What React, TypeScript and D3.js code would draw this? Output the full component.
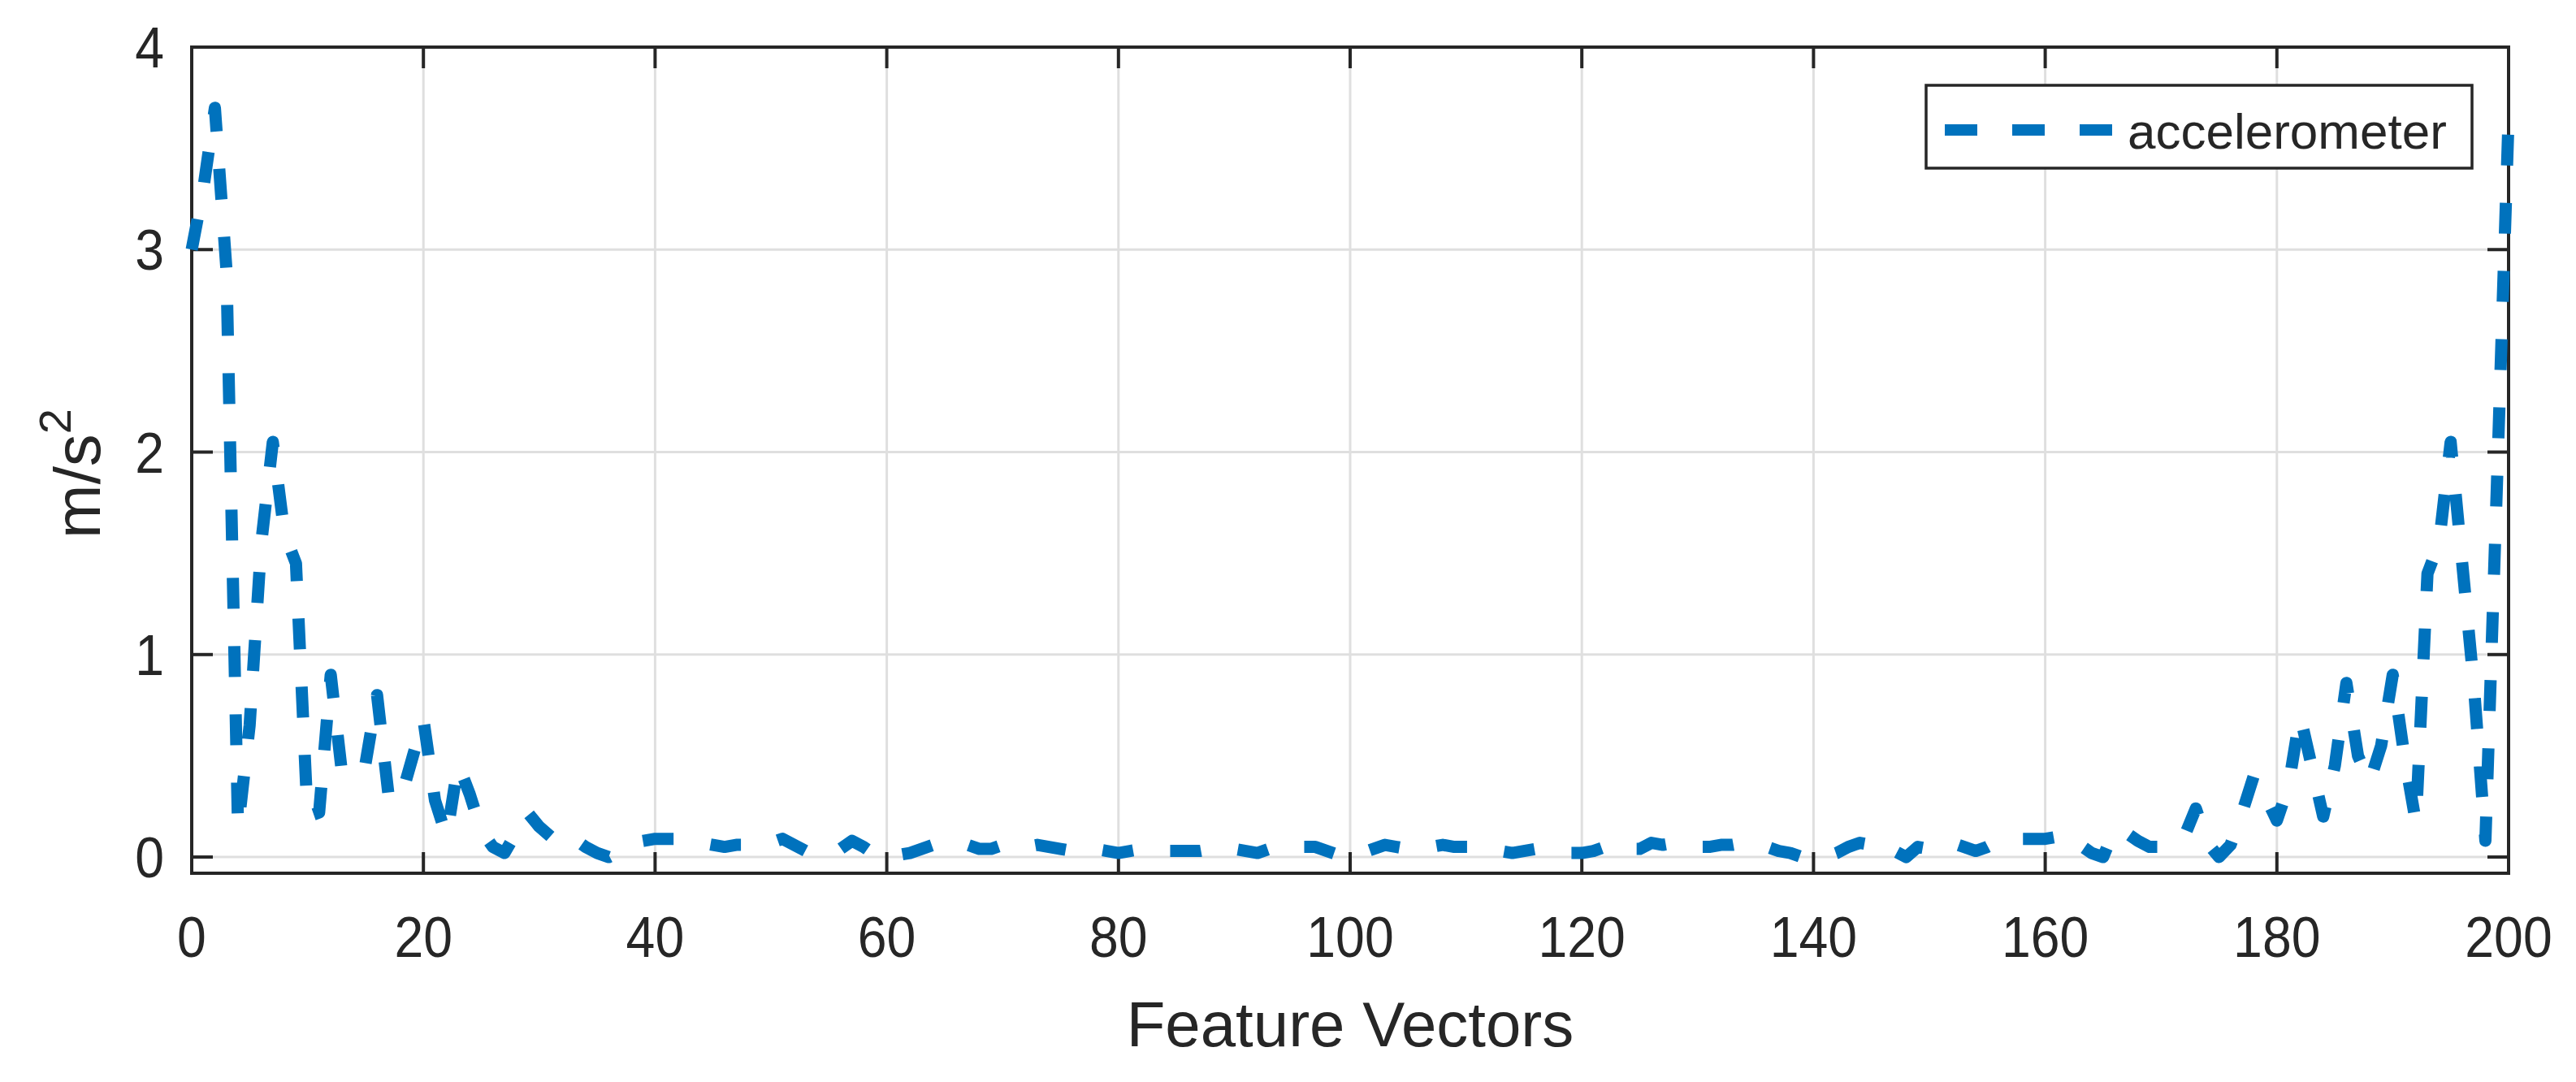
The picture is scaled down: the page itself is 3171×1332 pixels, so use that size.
import { useRef, useEffect } from "react";
import * as d3 from "d3";

// accelerometer magnitude per feature vector (index 0..200)
const accelValues = [
  3.0, 3.3, 3.7, 2.9, 0.14, 0.65, 1.55, 2.05, 1.6, 1.45, 0.2,
  0.22, 0.9, 0.4, 0.42, 0.46, 0.8, 0.3, 0.28, 0.48, 0.68,
  0.28, 0.1, 0.46, 0.31, 0.13, 0.05, 0.02, 0.12, 0.22, 0.15,
  0.1, 0.06, 0.09, 0.05, 0.02, 0.0, 0.03, 0.07, 0.08, 0.09,
  0.09, 0.09, 0.08, 0.07, 0.06, 0.05, 0.06, 0.06, 0.07, 0.07,
  0.09, 0.06, 0.03, 0.01, 0.02, 0.04, 0.08, 0.05, 0.01, 0.0,
  0.01, 0.02, 0.04, 0.06, 0.07, 0.06, 0.06, 0.04, 0.04, 0.06,
  0.05, 0.05, 0.06, 0.05, 0.04, 0.03, 0.03, 0.04, 0.03, 0.02,
  0.03, 0.04, 0.03, 0.03, 0.03, 0.03, 0.03, 0.04, 0.05, 0.04,
  0.03, 0.02, 0.04, 0.06, 0.06, 0.05, 0.05, 0.03, 0.01, 0.0,
  0.02, 0.04, 0.06, 0.05, 0.04, 0.04, 0.05, 0.06, 0.05, 0.05,
  0.05, 0.04, 0.03, 0.02, 0.03, 0.04, 0.04, 0.03, 0.02, 0.02,
  0.03, 0.05, 0.07, 0.04, 0.04, 0.07, 0.06, 0.07, 0.06, 0.05,
  0.05, 0.06, 0.06, 0.07, 0.06, 0.05, 0.03, 0.02, 0.0, 0.01,
  0.0, 0.02, 0.05, 0.07, 0.06, 0.08, 0.03, 0.0, 0.05, 0.04,
  0.05, 0.07, 0.05, 0.03, 0.05, 0.08, 0.1, 0.09, 0.09, 0.09,
  0.1, 0.12, 0.06, 0.02, 0.0, 0.14, 0.12, 0.08, 0.05, 0.05,
  0.05, 0.1, 0.24, 0.07, 0.0, 0.06, 0.22, 0.4, 0.3, 0.18,
  0.35, 0.7, 0.45, 0.2, 0.45, 0.86, 0.5, 0.37, 0.55, 0.9,
  0.5, 0.17, 1.4, 1.55, 2.05, 1.45, 0.85, 0.08, 1.85, 3.65,
];

const xTickValues = [0, 20, 40, 60, 80, 100, 120, 140, 160, 180, 200];
const yTickValues = [0, 1, 2, 3, 4];
const seriesName = "accelerometer";
const xLabel = "Feature Vectors";

const FONT = "'Liberation Sans', Arial, Helvetica, sans-serif";
const INK = "#262626";
const BLUE = "#0072BD";

export default function App() {
  const svgRef = useRef<SVGSVGElement>(null);

  useEffect(() => {
    const svg = d3.select(svgRef.current);
    svg.selectAll("*").remove();

    const left = 236;
    const right = 3088;
    const top = 58;
    const bottom = 1075;
    const tickLen = 26;

    const x = d3.scaleLinear().domain([0, 200]).range([left, right]);
    const y = d3.scaleLinear().domain([-0.08, 4]).range([bottom, top]);

    svg.append("rect").attr("width", 3171).attr("height", 1332).attr("fill", "#fff");

    // grid
    const grid = svg.append("g").attr("stroke", "#dfdfdf").attr("stroke-width", 3);
    grid
      .selectAll(".gx")
      .data(xTickValues.filter((d) => d > 0 && d < 200))
      .join("line")
      .attr("x1", (d) => x(d))
      .attr("x2", (d) => x(d))
      .attr("y1", top)
      .attr("y2", bottom);
    grid
      .selectAll(".gy")
      .data(yTickValues)
      .join("line")
      .attr("x1", left)
      .attr("x2", right)
      .attr("y1", (d) => y(d))
      .attr("y2", (d) => y(d));

    // ticks, all four sides
    const ticks = svg.append("g").attr("stroke", INK).attr("stroke-width", 4);
    xTickValues.forEach((d) => {
      ticks.append("line").attr("x1", x(d)).attr("x2", x(d)).attr("y1", bottom).attr("y2", bottom - tickLen);
      ticks.append("line").attr("x1", x(d)).attr("x2", x(d)).attr("y1", top).attr("y2", top + tickLen);
    });
    yTickValues.forEach((d) => {
      ticks.append("line").attr("x1", left).attr("x2", left + tickLen).attr("y1", y(d)).attr("y2", y(d));
      ticks.append("line").attr("x1", right).attr("x2", right - tickLen).attr("y1", y(d)).attr("y2", y(d));
    });

    // box
    svg
      .append("rect")
      .attr("x", left)
      .attr("y", top)
      .attr("width", right - left)
      .attr("height", bottom - top)
      .attr("fill", "none")
      .attr("stroke", INK)
      .attr("stroke-width", 4);

    // tick labels
    svg
      .append("g")
      .selectAll("g")
      .data(xTickValues)
      .join("g")
      .attr("transform", (d) => `translate(${x(d)},1178) scale(0.92,1)`)
      .append("text")
      .attr("text-anchor", "middle")
      .style("font-family", FONT)
      .attr("font-size", 70)
      .attr("fill", INK)
      .text((d) => d);

    svg
      .append("g")
      .selectAll("g")
      .data(yTickValues)
      .join("g")
      .attr("transform", (d) => `translate(202,${y(d) + 25}) scale(0.92,1)`)
      .append("text")
      .attr("text-anchor", "end")
      .style("font-family", FONT)
      .attr("font-size", 70)
      .attr("fill", INK)
      .text((d) => d);

    // axis labels
    svg
      .append("text")
      .attr("x", (left + right) / 2)
      .attr("y", 1288)
      .attr("text-anchor", "middle")
      .style("font-family", FONT)
      .attr("font-size", 78)
      .attr("fill", INK)
      .text(xLabel);

    const yl = svg
      .append("text")
      .attr("transform", "translate(123,663) rotate(-90)")
      .attr("text-anchor", "start")
      .style("font-family", FONT)
      .attr("font-size", 80)
      .attr("fill", INK);
    yl.append("tspan").text("m/s");
    yl.append("tspan").attr("font-size", 56).attr("dy", -36).text("2");

    // data line
    const line = d3
      .line<number>()
      .x((_, i) => x(i))
      .y((d) => y(d));

    svg
      .append("path")
      .datum(accelValues)
      .attr("d", line)
      .attr("fill", "none")
      .attr("stroke", BLUE)
      .attr("stroke-width", 15)
      .attr("stroke-dasharray", "38 46")
      .attr("stroke-linejoin", "round");

    // legend
    const lg = svg.append("g");
    lg.append("rect")
      .attr("x", 2371)
      .attr("y", 105)
      .attr("width", 672)
      .attr("height", 102)
      .attr("fill", "#fff")
      .attr("stroke", INK)
      .attr("stroke-width", 3.5);
    lg.append("line")
      .attr("x1", 2394)
      .attr("x2", 2601)
      .attr("y1", 160)
      .attr("y2", 160)
      .attr("stroke", BLUE)
      .attr("stroke-width", 14)
      .attr("stroke-dasharray", "40 43");
    lg.append("text")
      .attr("x", 2619)
      .attr("y", 183)
      .style("font-family", FONT)
      .attr("font-size", 62)
      .attr("fill", INK)
      .text(seriesName);
  }, []);

  return (
    <svg
      ref={svgRef}
      width={3171}
      height={1332}
      style={{ position: "absolute", left: 0, top: 0, display: "block" }}
    />
  );
}
